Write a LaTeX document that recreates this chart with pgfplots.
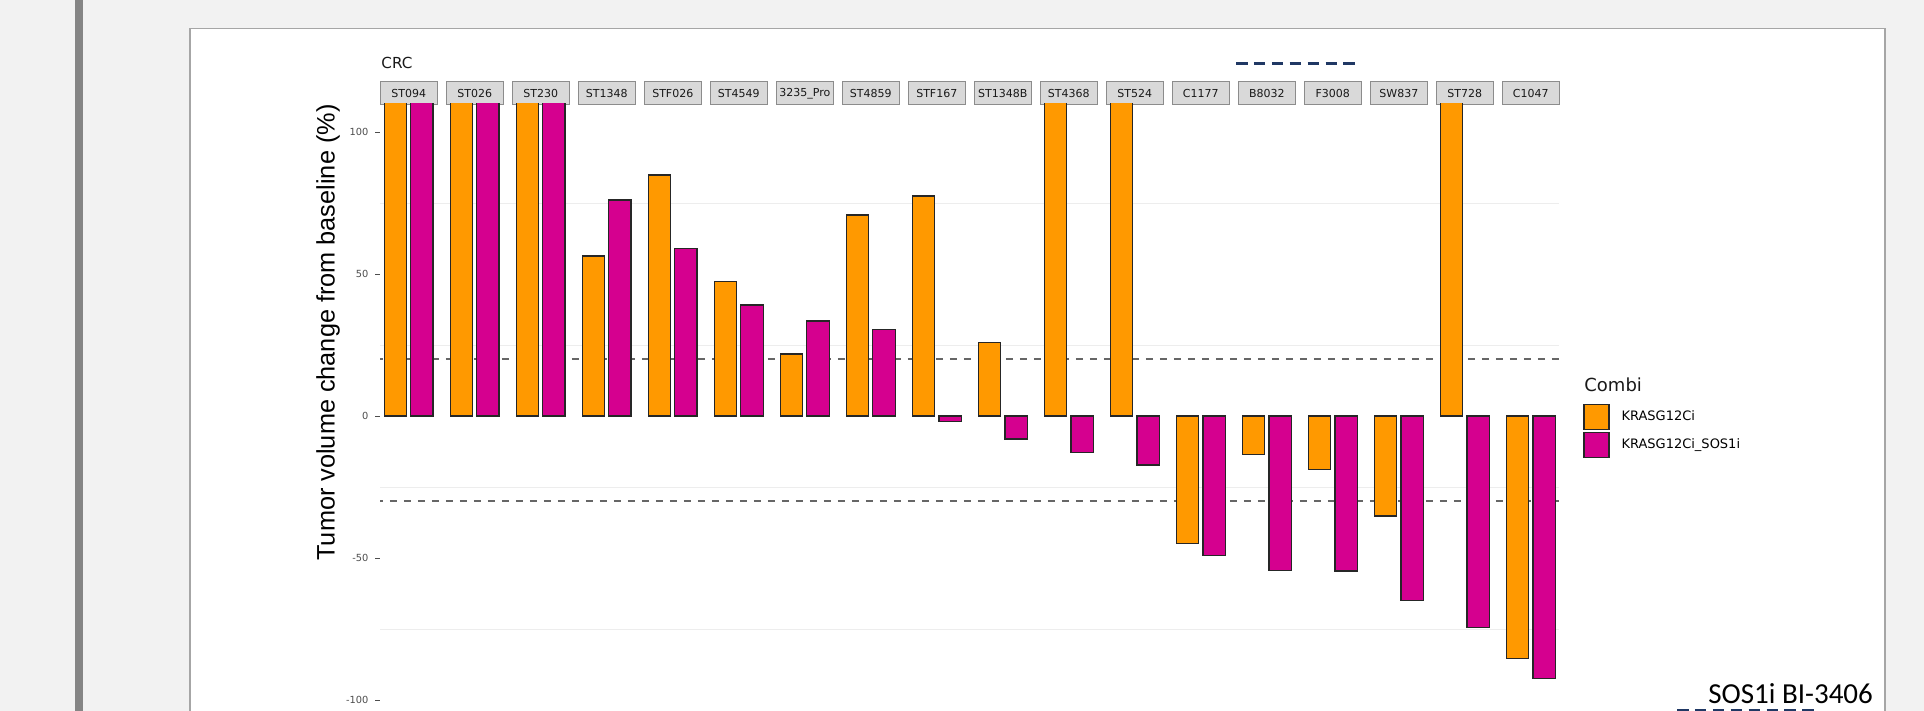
\documentclass[border=0pt]{standalone}
\usepackage{fontspec}
\setmainfont{DejaVu Sans}
\newfontfamily\arialfont{Liberation Sans}
\newfontfamily\calfont{Carlito}
\usepackage{pgfplots}
\usepackage{pgfplotstable}
\pgfplotsset{compat=1.18}
\definecolor{slidebg}{HTML}{F2F2F2}
\definecolor{leftbar}{HTML}{858585}
\definecolor{panelborder}{HTML}{A6A6A6}
\definecolor{krasorange}{HTML}{FF9900}
\definecolor{combimag}{HTML}{D5008F}
\definecolor{stripfill}{HTML}{D9D9D9}
\definecolor{stripdraw}{HTML}{8C8C8C}
\definecolor{navy}{HTML}{203864}
\definecolor{tickgray}{HTML}{4D4D4D}
\definecolor{gridgray}{HTML}{EDEDED}
\definecolor{refgray}{HTML}{666666}
\pgfplotsset{sqlegend/.style={legend image code/.code={\draw[##1,line width=0.6pt] (0pt,-6.25pt) rectangle (12.5pt,6.25pt);}}}

% x = facet index; kras = KRASG12Ci, combi = KRASG12Ci_SOS1i (values above the panel are clipped)
\pgfplotstableread{
x kras combi
0 150 150
1 150 150
2 150 150
3 56.3 76.1
4 84.9 59.0
5 47.3 39.1
6 21.8 33.5
7 70.8 30.5
8 77.5 -2.0
9 25.9 -8.1
10 150 -12.8
11 150 -17.3
12 -44.8 -49.2
13 -13.5 -54.5
14 -18.9 -54.6
15 -35.2 -65.0
16 150 -74.5
17 -85.3 -92.4
}\bardata

\begin{document}
\begin{tikzpicture}
\useasboundingbox (0,0) rectangle (962pt,-355.5pt);
\clip (0,0) rectangle (962pt,-355.5pt);
\begin{scope}[x=0.5pt,y=-0.5pt]
\fill[slidebg] (0,0) rectangle (1924,711);
\fill[leftbar] (74.5,0) rectangle (83,711);
\fill[white] (190,28.5) rectangle (1885,720);
\draw[panelborder, line width=0.6pt] (190,720) -- (190,28.5) -- (1885,28.5) -- (1885,720);
\end{scope}
\begin{axis}[
  at={(190pt,-355.5pt)}, anchor=south west,
  scale only axis, width=589.6pt, height=303.5pt,
  xmin=-0.436, xmax=17.43, ymin=-103.87, ymax=109.86,
  axis line style={draw=none},
  xtick={0,...,17},
  xticklabels={ST094,ST026,ST230,ST1348,STF026,ST4549,3235\_Pro,ST4859,STF167,ST1348B,ST4368,ST524,C1177,B8032,F3008,SW837,ST728,C1047},
  xticklabel pos=right,
  xtick style={draw=none},
  xticklabel style={font=\fontsize{5.5pt}{6pt}\selectfont, text=black!90, fill=stripfill, draw=stripdraw, line width=0.6pt, minimum width=28.5pt, minimum height=11.5pt, inner sep=0pt, anchor=south, yshift=-3pt},
  ytick={-100,-50,0,50,100},
  yticklabels={-100,-50,0,50,100},
  ytick pos=left,
  tick align=outside,
  major tick length=2.3pt,
  ytick style={draw=tickgray, line width=0.5pt},
  yticklabel style={font=\fontsize{4.9pt}{5pt}\selectfont, text=tickgray},
  minor ytick={-75,-25,25,75},
  yminorgrids=true,
  minor grid style={draw=gridgray, line width=0.5pt},
  minor tick length=0pt,
  legend style={at={(1.0201,0.5069)}, anchor=north west, draw=none, fill=none, inner sep=0pt, row sep=1pt, column sep=4pt, font=\fontsize{6.5pt}{7pt}\selectfont},
  legend cell align=left,
]
\addplot[refgray, line width=0.8pt, dash pattern=on 3.5pt off 3.5pt, forget plot] coordinates {(-0.5,20) (17.5,20)};
\addplot[refgray, line width=0.8pt, dash pattern=on 3.5pt off 3.5pt, forget plot] coordinates {(-0.5,-30) (17.5,-30)};
\addplot[ybar, bar width=0.338, bar shift=-0.2, fill=krasorange, draw=black!85, line width=0.65pt, sqlegend] table[x=x,y=kras]{\bardata};
\addlegendentry{KRASG12Ci}
\addplot[ybar, bar width=0.338, bar shift=0.2, fill=combimag, draw=black!85, line width=0.65pt, sqlegend] table[x=x,y=combi]{\bardata};
\addlegendentry{KRASG12Ci\_SOS1i}
\end{axis}
\begin{scope}[x=0.5pt,y=-0.5pt]
\node[anchor=base west, inner sep=0pt, font=\fontsize{7.6pt}{8pt}\selectfont, text=black!90] at (381,68.3) {CRC};
\node[rotate=90, inner sep=0pt, font=\arialfont\fontsize{12.65pt}{14pt}\selectfont] at (328,332.5) {Tumor volume change from baseline (\%)};
\node[anchor=base west, inner sep=0pt, font=\fontsize{9pt}{10pt}\selectfont, text=black!90] at (1584,392) {Combi};
\node[anchor=base west, inner sep=0pt, font=\calfont\fontsize{14.5pt}{16pt}\selectfont] at (1708,703) {SOS1i BI-3406};
\draw[navy, line width=1.5pt, dash pattern=on 5.75pt off 3.2pt] (1236,64) -- (1359,64);
\draw[navy, line width=1.5pt, dash pattern=on 5.75pt off 3.2pt] (1677,710) -- (1817,710);
\end{scope}
\end{tikzpicture}
\end{document}
